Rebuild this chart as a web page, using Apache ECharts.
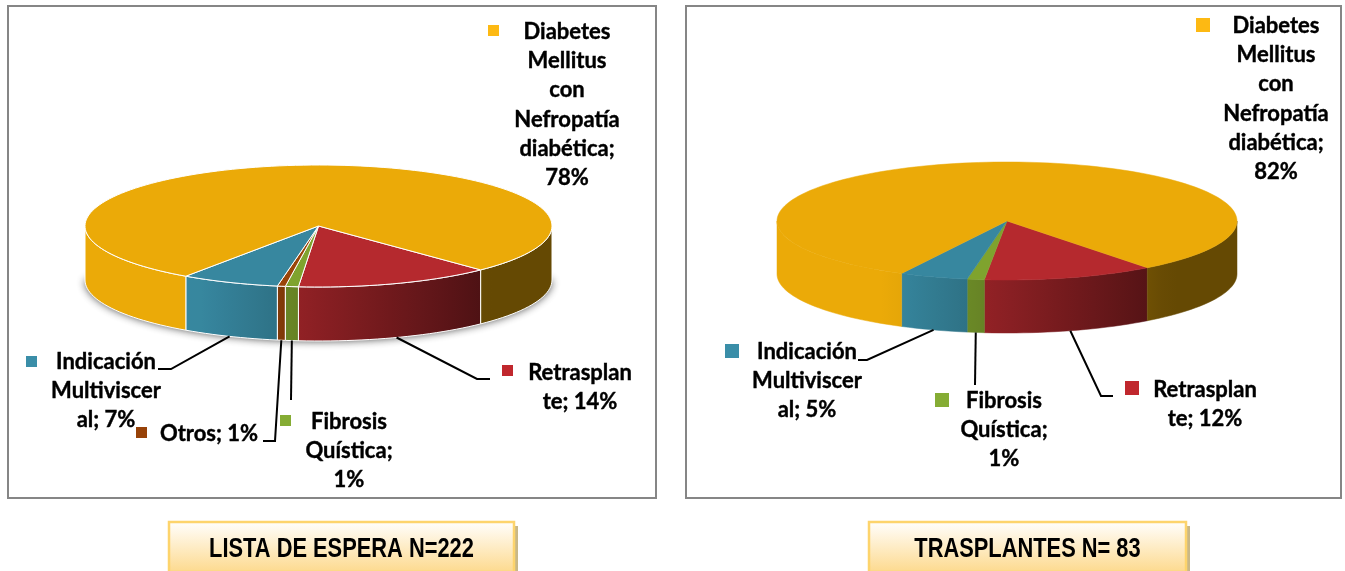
<!DOCTYPE html>
<html>
<head>
<meta charset="utf-8">
<title>Lista de espera y trasplantes</title>
<script src="https://cdn.jsdelivr.net/npm/echarts@6/dist/echarts.min.js"></script>
<style>
  html, body { margin: 0; padding: 0; background: #fff; }
  #chart { width: 1345px; height: 571px; }
</style>
</head>
<body>
<div id="chart"></div>
<script>
// clockwise from the first slice: Retrasplante, Fibrosis, Otros, Indicacion, Diabetes
var listaValues = [13.6, 0.9, 0.55, 6.8, 78.2];
var listaLabels = ['Retrasplan\nte; 14%', 'Fibrosis\nQuística;\n1%', 'Otros; 1%', 'Indicación\nMultiviscer\nal; 7%', 'Diabetes\nMellitus\ncon\nNefropatía\ndiabética;\n78%'];
var listaColors = ['#b5292e', '#7fa32e', '#9a4509', '#37879f', '#ebaa08'];
var listaTitle = 'LISTA DE ESPERA N=222';

var trasplantesValues = [12, 1.2, 4.8, 81.9];
var trasplantesLabels = ['Retrasplan\nte; 12%', 'Fibrosis\nQuística;\n1%', 'Indicación\nMultiviscer\nal; 5%', 'Diabetes\nMellitus\ncon\nNefropatía\ndiabética;\n82%'];
var trasplantesColors = ['#b5292e', '#7fa32e', '#37879f', '#ebaa08'];
var trasplantesTitle = 'TRASPLANTES N= 83';

var FONT = 'Lato';
var RAD = Math.PI / 180;

// layout of each pie and its labels, [x, y] are page pixels
var listaLayout = {
  cx: 318.5, cy: 226, rx: 233.5, ry: 61, depth: 54, start: 46, edge: true, shadow: true, swatch: 11,
  swatchColors: ['#c0272d', '#85ac34', '#974208', '#3a8ea8', '#fdb913'],
  labels: [
    { x: 580, y: 358, sw: [502, 365], elbow: [[477, 379], [490, 379]] },
    { x: 349, y: 407, sw: [280, 415], elbow: [[291, 400]] },
    { x: 209, y: 419, sw: [136, 427], elbow: [[275, 441], [263, 441]] },
    { x: 106, y: 347, sw: [26, 356], elbow: [[171, 369], [158, 369]] },
    { x: 567, y: 17, sw: [488, 25] }
  ]
};
var trasplantesLayout = {
  cx: 1007, cy: 221, rx: 230, ry: 59, depth: 53, start: 52.4, edge: false, shadow: false, swatch: 14,
  swatchColors: ['#c0272d', '#85ac34', '#3a8ea8', '#fdb913'],
  labels: [
    { x: 1205, y: 375, sw: [1125, 381], elbow: [[1101, 396], [1113, 396]] },
    { x: 1004, y: 386, sw: [935, 393], elbow: [[975, 385]] },
    { x: 807, y: 337, sw: [725, 344], elbow: [[867, 360], [858, 360]] },
    { x: 1276, y: 11, sw: [1196, 18] }
  ]
};

function ellipsePoints(lay, t0, t1, dy) {
  var pts = [];
  var n = Math.max(2, Math.ceil(Math.abs(t1 - t0) / 2));
  for (var i = 0; i <= n; i++) {
    var t = (t0 + (t1 - t0) * i / n) * RAD;
    pts.push([lay.cx + lay.rx * Math.cos(t), lay.cy + dy + lay.ry * Math.sin(t)]);
  }
  return pts;
}

function shadeColor(hex, k) {
  var c = parseInt(hex.slice(1), 16);
  var r = Math.round((c >> 16 & 255) * k);
  var g = Math.round((c >> 8 & 255) * k);
  var b = Math.round((c & 255) * k);
  return 'rgb(' + r + ',' + g + ',' + b + ')';
}

// the side gets darker towards the right, like the excel lighting
function sideShade(lay, x) {
  var u = (x - lay.cx) / lay.rx;
  return Math.min(1, Math.max(0.43, 0.76 - 0.47 * u));
}

function sideFill(lay, color, t0, t1) {
  var x0 = lay.cx + lay.rx * Math.cos(t0 * RAD);
  var x1 = lay.cx + lay.rx * Math.cos(t1 * RAD);
  var left = Math.min(x0, x1), right = Math.max(x0, x1);
  var stops = [];
  for (var i = 0; i <= 6; i++) {
    stops.push({ offset: i / 6, color: shadeColor(color, sideShade(lay, left + (right - left) * i / 6)) });
  }
  return new echarts.graphic.LinearGradient(0, 0, 1, 0, stops);
}

function pieItem(values, labels, colors, lay) {
  var total = values.reduce(function (a, b) { return a + b; }, 0);
  return function (params, api) {
    var idx = params.dataIndex;
    var before = 0;
    for (var i = 0; i < idx; i++) before += values[i];
    var t0 = lay.start + before / total * 360;
    var t1 = t0 + api.value(0) / total * 360;
    var mid = (t0 + t1) / 2;
    var children = [];

    // shadow only shows under the lower half, drawn once
    if (idx === 0 && lay.shadow) {
      children.push({
        type: 'polygon', z2: 0,
        shape: { points: ellipsePoints(lay, 0, 180, lay.depth) },
        style: { fill: '#bbb', shadowBlur: 9, shadowColor: 'rgba(60,60,60,0.95)', shadowOffsetY: 0 }
      });
    }

    // visible part of the side: 0-180 and 360-540 in ellipse angle
    [[0, 180], [360, 540]].forEach(function (win) {
      var a = Math.max(t0, win[0]), b = Math.min(t1, win[1]);
      if (b <= a) return;
      var pts = ellipsePoints(lay, a, b, 0).concat(ellipsePoints(lay, b, a, lay.depth));
      var fill = sideFill(lay, colors[idx], a, b);
      children.push({
        type: 'polygon', z2: 1,
        shape: { points: pts },
        style: { fill: fill, stroke: lay.edge ? '#fff' : fill, lineWidth: lay.edge ? 1 : 0.5 }
      });
    });

    // top face
    children.push({
      type: 'polygon', z2: 2,
      shape: { points: [[lay.cx, lay.cy]].concat(ellipsePoints(lay, t0, t1, 0)) },
      style: { fill: colors[idx], stroke: lay.edge ? '#fff' : colors[idx], lineWidth: lay.edge ? 1 : 0.5 }
    });

    var lab = lay.labels[idx];
    if (lab.elbow) {
      var startX = lay.cx + lay.rx * Math.cos(mid * RAD);
      var startY = lay.cy + lay.depth + lay.ry * Math.sin(mid * RAD);
      children.push({
        type: 'polyline', z2: 3,
        shape: { points: [[startX, startY]].concat(lab.elbow) },
        style: { fill: null, stroke: '#000', lineWidth: 2 }
      });
    }
    children.push({
      type: 'rect', z2: 4,
      shape: { x: lab.sw[0], y: lab.sw[1], width: lay.swatch, height: lay.swatch },
      style: { fill: lay.swatchColors[idx] }
    });
    children.push({
      type: 'text', z2: 5,
      style: {
        text: labels[idx], x: lab.x, y: lab.y, align: 'center', verticalAlign: 'top',
        fontFamily: FONT, fontWeight: 'bold', fontSize: 22, lineHeight: 29.3, fill: '#000',
        stroke: '#000', lineWidth: 0.4
      }
    });
    return { type: 'group', children: children };
  };
}

function frame(x, y, w, h) {
  return { type: 'rect', silent: true, z: 0, shape: { x: x, y: y, width: w, height: h }, style: { fill: '#fff', stroke: '#868686', lineWidth: 2 } };
}

function titleBox(x, y, w, h, text) {
  return {
    type: 'group', silent: true, z: 0,
    children: [
      { type: 'rect', shape: { x: x + 4, y: y + 4, width: w, height: h }, style: { fill: '#c9b887' } },
      {
        type: 'rect', shape: { x: x, y: y, width: w, height: h },
        style: {
          fill: new echarts.graphic.LinearGradient(0, 0, 0, 1, [
            { offset: 0, color: '#ffffff' },
            { offset: 1, color: '#fdd98c' }
          ]),
          stroke: '#fdd46c', lineWidth: 2.5
        }
      },
      {
        // no narrow font installed, so squeeze the text
        type: 'text',
        x: x + w / 2, y: y + h / 2 + 2, scaleX: 0.78,
        style: {
          text: text, x: 0, y: 0, align: 'center', verticalAlign: 'middle',
          fontFamily: '"Liberation Sans"', fontWeight: 'bold', fontSize: 28, fill: '#000'
        }
      }
    ]
  };
}

var chart = echarts.init(document.getElementById('chart'), null, { renderer: 'canvas' });
chart.setOption({
  animation: false,
  backgroundColor: '#fff',
  graphic: [
    frame(8, 6, 648, 492),
    frame(686, 6, 655, 492),
    titleBox(169, 522, 345, 50, listaTitle),
    titleBox(869, 522, 317, 50, trasplantesTitle)
  ],
  series: [
    {
      type: 'custom', coordinateSystem: 'none', silent: true, z: 5,
      renderItem: pieItem(listaValues, listaLabels, listaColors, listaLayout),
      data: listaValues.map(function (v) { return [v]; })
    },
    {
      type: 'custom', coordinateSystem: 'none', silent: true, z: 5,
      renderItem: pieItem(trasplantesValues, trasplantesLabels, trasplantesColors, trasplantesLayout),
      data: trasplantesValues.map(function (v) { return [v]; })
    }
  ]
});
</script>
</body>
</html>
